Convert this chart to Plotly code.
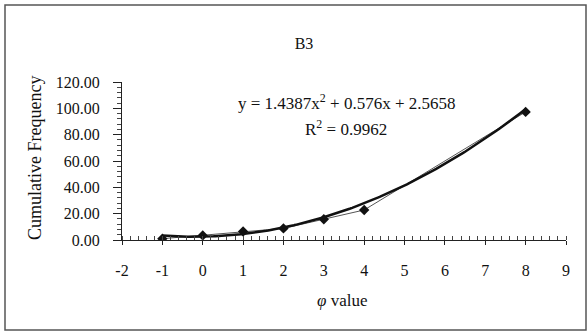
import numpy as np
import plotly.graph_objects as go

phi = [-1, 0, 1, 2, 3, 4, 8]
cum_freq = [1.0, 3.5, 6.5, 8.8, 15.8, 22.8, 97.3]
coef_a, coef_b, coef_c = 1.4387, 0.576, 2.5658
x_ticks = list(range(-2, 10))
x_tick_text = [str(v) for v in x_ticks]
y_ticks = [0, 20, 40, 60, 80, 100, 120]
y_tick_text = [f"{v:.2f}" for v in y_ticks]

xs = np.linspace(min(phi), max(phi), 200)
ys = coef_a * xs**2 + coef_b * xs + coef_c

font = "Liberation Serif, Times New Roman, serif"
fig = go.Figure()
fig.add_trace(go.Scatter(x=phi, y=cum_freq, mode="lines+markers",
                         line=dict(color="#555", width=1),
                         marker=dict(symbol="diamond", size=8, color="#111"),
                         showlegend=False))
fig.add_trace(go.Scatter(x=xs, y=ys, mode="lines",
                         line=dict(color="#111", width=2.5),
                         showlegend=False))

fig.update_layout(
    width=588, height=334,
    margin=dict(l=122, r=22, t=82, b=94),
    paper_bgcolor="white", plot_bgcolor="white",
    font=dict(family=font, size=16, color="#111"),
    title=dict(text="B3", x=(304-122)/444, xref="paper", xanchor="center",
               y=1 - 43/334, yanchor="middle", font=dict(size=16)),
    xaxis=dict(range=[-2, 9], tickvals=x_ticks, ticktext=x_tick_text,
               showgrid=False, zeroline=False,
               showline=True, linecolor="#222", linewidth=1,
               ticks="outside", ticklen=4, tickcolor="#222",
               ticklabelstandoff=12,
               minor=dict(dtick=0.2, ticks="inside", ticklen=4, tickcolor="#444"),
               tickfont=dict(size=16)),
    yaxis=dict(range=[0, 120], tickvals=y_ticks, ticktext=y_tick_text,
               showgrid=False, zeroline=False,
               showline=True, linecolor="#222", linewidth=1,
               ticks="outside", ticklen=8, tickcolor="#222",
               ticklabelstandoff=10,
               minor=dict(dtick=4, ticks="outside", ticklen=4, tickcolor="#444"),
               tickfont=dict(size=16)),
    annotations=[
        dict(text="y = 1.4387x<sup>2</sup> + 0.576x + 2.5658", xref="paper", yref="paper",
             x=(346-122)/444, y=(240-102)/158, showarrow=False,
             yanchor="middle", font=dict(size=17)),
        dict(text="R<sup>2</sup> = 0.9962", xref="paper", yref="paper",
             x=(346-122)/444, y=(240-128)/158, showarrow=False,
             yanchor="middle", font=dict(size=17)),
        dict(text="Cumulative Frequency", xref="paper", yref="paper",
             x=(35-122)/444, y=(240-158)/158, textangle=-90, showarrow=False,
             xanchor="center", yanchor="middle", font=dict(size=18)),
        dict(text="<i>φ</i> value", xref="paper", yref="paper",
             x=(342-122)/444, y=(240-300)/158, showarrow=False,
             yanchor="middle", font=dict(size=17)),
    ],
    shapes=[dict(type="rect", xref="paper", yref="paper",
                 x0=(5-122)/444, x1=(586-122)/444,
                 y0=(240-330)/158, y1=(240-5)/158,
                 line=dict(color="#555", width=1.5))],
)
fig.write_html("out.html")
